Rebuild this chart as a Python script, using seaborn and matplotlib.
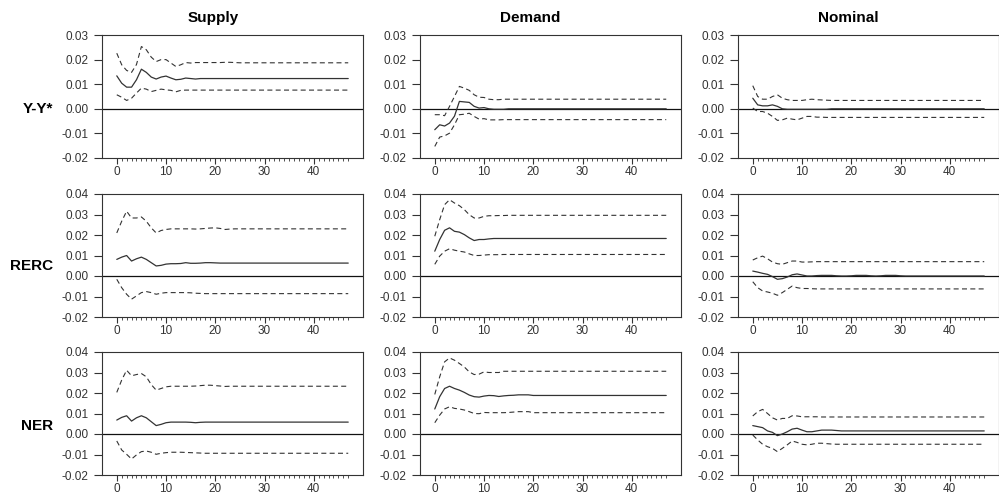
import numpy as np
import pandas as pd
import matplotlib
matplotlib.use("Agg")
import matplotlib.pyplot as plt
import seaborn as sns
from matplotlib.ticker import FixedLocator, FormatStrFormatter

# ---------------- data ----------------
horizon = list(range(48))
shocks = ["Supply", "Demand", "Nominal"]
variables = ["Y-Y*", "RERC", "NER"]
y_limits = {"Y-Y*": (-0.02, 0.03), "RERC": (-0.02, 0.04), "NER": (-0.02, 0.04)}
x_ticks = [0, 10, 20, 30, 40]

# Y-Y*
sup_y_mid = [0.0134, 0.0104, 0.0088, 0.0088, 0.0118, 0.0161, 0.0148, 0.0129, 0.0121, 0.0129,
             0.0133, 0.0125, 0.0118, 0.0120, 0.0125, 0.0123, 0.0121, 0.0123, 0.0123, 0.0123,
             0.0123, 0.0123, 0.0123, 0.0123, 0.0123, 0.0123, 0.0123, 0.0123, 0.0123, 0.0123,
             0.0123, 0.0123, 0.0123, 0.0123, 0.0123, 0.0123, 0.0123, 0.0123, 0.0123, 0.0123,
             0.0123, 0.0123, 0.0123, 0.0123, 0.0123, 0.0123, 0.0123, 0.0123]
sup_y_up = [0.0226, 0.0179, 0.0156, 0.0148, 0.0180, 0.0253, 0.0240, 0.0210, 0.0192, 0.0200,
            0.0200, 0.0186, 0.0172, 0.0179, 0.0188, 0.0186, 0.0188, 0.0188, 0.0188, 0.0188,
            0.0188, 0.0188, 0.0189, 0.0189, 0.0188, 0.0187, 0.0187, 0.0187, 0.0187, 0.0187,
            0.0187, 0.0187, 0.0187, 0.0187, 0.0187, 0.0187, 0.0187, 0.0187, 0.0187, 0.0187,
            0.0187, 0.0187, 0.0187, 0.0187, 0.0187, 0.0187, 0.0187, 0.0187]
sup_y_lo = [0.0057, 0.0047, 0.0034, 0.0043, 0.0064, 0.0084, 0.0080, 0.0070, 0.0075, 0.0080,
            0.0077, 0.0075, 0.0069, 0.0075, 0.0076, 0.0076, 0.0076, 0.0076, 0.0076, 0.0076,
            0.0076, 0.0076, 0.0076, 0.0076, 0.0076, 0.0076, 0.0076, 0.0076, 0.0076, 0.0076,
            0.0076, 0.0076, 0.0076, 0.0076, 0.0076, 0.0076, 0.0076, 0.0076, 0.0076, 0.0076,
            0.0076, 0.0076, 0.0076, 0.0076, 0.0076, 0.0076, 0.0076, 0.0076]

dem_y_mid = [-0.0085, -0.0065, -0.0070, -0.0058, -0.0030, 0.0030, 0.0028, 0.0026, 0.0010, 0.0003,
             0.0005, 0.0000, -0.0002, -0.0002, -0.0002, 0.0000, 0.0000, 0.0000, 0.0000, 0.0000,
             0.0000, 0.0000, 0.0000, 0.0000, 0.0000, 0.0000, 0.0000, 0.0000, 0.0000, 0.0000,
             0.0000, 0.0000, 0.0000, 0.0000, 0.0000, 0.0000, 0.0000, 0.0000, 0.0000, 0.0000,
             0.0000, 0.0000, 0.0000, 0.0000, 0.0000, 0.0000, 0.0000, 0.0000]
dem_y_up = [-0.0024, -0.0024, -0.0028, 0.0010, 0.0050, 0.0091, 0.0084, 0.0075, 0.0057, 0.0047,
            0.0046, 0.0039, 0.0037, 0.0037, 0.0039, 0.0039, 0.0039, 0.0039, 0.0039, 0.0039,
            0.0039, 0.0039, 0.0039, 0.0039, 0.0039, 0.0039, 0.0039, 0.0039, 0.0039, 0.0039,
            0.0039, 0.0039, 0.0039, 0.0039, 0.0039, 0.0039, 0.0039, 0.0039, 0.0039, 0.0039,
            0.0039, 0.0039, 0.0039, 0.0039, 0.0039, 0.0039, 0.0039, 0.0039]
dem_y_lo = [-0.0153, -0.0115, -0.0110, -0.0099, -0.0065, -0.0024, -0.0022, -0.0018, -0.0031, -0.0042,
            -0.0040, -0.0045, -0.0045, -0.0045, -0.0044, -0.0044, -0.0044, -0.0044, -0.0044, -0.0044,
            -0.0044, -0.0044, -0.0044, -0.0044, -0.0044, -0.0044, -0.0044, -0.0044, -0.0044, -0.0044,
            -0.0044, -0.0044, -0.0044, -0.0044, -0.0044, -0.0044, -0.0044, -0.0044, -0.0044, -0.0044,
            -0.0044, -0.0044, -0.0044, -0.0044, -0.0044, -0.0044, -0.0044, -0.0044]

nom_y_mid = [0.0043, 0.0016, 0.0012, 0.0012, 0.0016, 0.0010, 0.0000, -0.0002, -0.0002, -0.0002,
             -0.0002, -0.0002, -0.0002, -0.0002, -0.0002, -0.0002, 0.0000, 0.0000, 0.0000, 0.0000,
             0.0000, 0.0000, 0.0000, 0.0000, 0.0000, 0.0000, 0.0000, 0.0000, 0.0000, 0.0000,
             0.0000, 0.0000, 0.0000, 0.0000, 0.0000, 0.0000, 0.0000, 0.0000, 0.0000, 0.0000,
             0.0000, 0.0000, 0.0000, 0.0000, 0.0000, 0.0000, 0.0000, 0.0000]
nom_y_up = [0.0094, 0.0050, 0.0039, 0.0039, 0.0050, 0.0057, 0.0043, 0.0037, 0.0034, 0.0034,
            0.0034, 0.0037, 0.0039, 0.0037, 0.0036, 0.0035, 0.0034, 0.0034, 0.0034, 0.0034,
            0.0034, 0.0034, 0.0034, 0.0034, 0.0034, 0.0034, 0.0034, 0.0034, 0.0034, 0.0034,
            0.0034, 0.0034, 0.0034, 0.0034, 0.0034, 0.0034, 0.0034, 0.0034, 0.0034, 0.0034,
            0.0034, 0.0034, 0.0034, 0.0034, 0.0034, 0.0034, 0.0034, 0.0034]
nom_y_lo = [0.0003, -0.0011, -0.0011, -0.0018, -0.0031, -0.0047, -0.0045, -0.0038, -0.0042, -0.0045,
            -0.0038, -0.0031, -0.0031, -0.0034, -0.0034, -0.0035, -0.0035, -0.0035, -0.0035, -0.0035,
            -0.0035, -0.0035, -0.0035, -0.0035, -0.0035, -0.0035, -0.0035, -0.0035, -0.0035, -0.0035,
            -0.0035, -0.0035, -0.0035, -0.0035, -0.0035, -0.0035, -0.0035, -0.0035, -0.0035, -0.0035,
            -0.0035, -0.0035, -0.0035, -0.0035, -0.0035, -0.0035, -0.0035, -0.0035]

# RERC
sup_r_mid = [0.0081, 0.0092, 0.0100, 0.0073, 0.0084, 0.0092, 0.0081, 0.0065, 0.0049, 0.0052,
             0.0058, 0.0060, 0.0060, 0.0061, 0.0065, 0.0062, 0.0062, 0.0063, 0.0065, 0.0065,
             0.0064, 0.0063, 0.0063, 0.0063, 0.0063, 0.0063, 0.0063, 0.0063, 0.0063, 0.0063,
             0.0063, 0.0063, 0.0063, 0.0063, 0.0063, 0.0063, 0.0063, 0.0063, 0.0063, 0.0063,
             0.0063, 0.0063, 0.0063, 0.0063, 0.0063, 0.0063, 0.0063, 0.0063]
sup_r_up = [0.0210, 0.0267, 0.0316, 0.0283, 0.0283, 0.0288, 0.0267, 0.0235, 0.0210, 0.0222,
            0.0227, 0.0230, 0.0230, 0.0230, 0.0230, 0.0230, 0.0229, 0.0230, 0.0232, 0.0234,
            0.0235, 0.0232, 0.0227, 0.0229, 0.0230, 0.0230, 0.0230, 0.0230, 0.0230, 0.0230,
            0.0230, 0.0230, 0.0230, 0.0230, 0.0230, 0.0230, 0.0230, 0.0230, 0.0230, 0.0230,
            0.0230, 0.0230, 0.0230, 0.0230, 0.0230, 0.0230, 0.0230, 0.0230]
sup_r_lo = [-0.0016, -0.0057, -0.0089, -0.0113, -0.0097, -0.0081, -0.0076, -0.0081, -0.0089, -0.0084,
            -0.0081, -0.0081, -0.0081, -0.0081, -0.0081, -0.0082, -0.0084, -0.0085, -0.0086, -0.0086,
            -0.0086, -0.0086, -0.0086, -0.0086, -0.0086, -0.0086, -0.0086, -0.0086, -0.0086, -0.0086,
            -0.0086, -0.0086, -0.0086, -0.0086, -0.0086, -0.0086, -0.0086, -0.0086, -0.0086, -0.0086,
            -0.0086, -0.0086, -0.0086, -0.0086, -0.0086, -0.0086, -0.0086, -0.0086]

dem_r_mid = [0.0121, 0.0178, 0.0223, 0.0235, 0.0218, 0.0214, 0.0202, 0.0186, 0.0173, 0.0178,
             0.0178, 0.0181, 0.0183, 0.0183, 0.0183, 0.0183, 0.0183, 0.0183, 0.0183, 0.0183,
             0.0183, 0.0183, 0.0183, 0.0183, 0.0183, 0.0183, 0.0183, 0.0183, 0.0183, 0.0183,
             0.0183, 0.0183, 0.0183, 0.0183, 0.0183, 0.0183, 0.0183, 0.0183, 0.0183, 0.0183,
             0.0183, 0.0183, 0.0183, 0.0183, 0.0183, 0.0183, 0.0183, 0.0183]
dem_r_up = [0.0194, 0.0275, 0.0348, 0.0372, 0.0356, 0.0343, 0.0324, 0.0299, 0.0283, 0.0283,
            0.0291, 0.0294, 0.0294, 0.0295, 0.0295, 0.0296, 0.0296, 0.0296, 0.0296, 0.0296,
            0.0296, 0.0296, 0.0296, 0.0296, 0.0296, 0.0296, 0.0296, 0.0296, 0.0296, 0.0296,
            0.0296, 0.0296, 0.0296, 0.0296, 0.0296, 0.0296, 0.0296, 0.0296, 0.0296, 0.0296,
            0.0296, 0.0296, 0.0296, 0.0296, 0.0296, 0.0296, 0.0296, 0.0296]
dem_r_lo = [0.0057, 0.0097, 0.0121, 0.0133, 0.0126, 0.0121, 0.0117, 0.0108, 0.0100, 0.0100,
            0.0102, 0.0104, 0.0104, 0.0104, 0.0105, 0.0105, 0.0105, 0.0105, 0.0105, 0.0105,
            0.0105, 0.0105, 0.0105, 0.0105, 0.0105, 0.0105, 0.0105, 0.0105, 0.0105, 0.0105,
            0.0105, 0.0105, 0.0105, 0.0105, 0.0105, 0.0105, 0.0105, 0.0105, 0.0105, 0.0105,
            0.0105, 0.0105, 0.0105, 0.0105, 0.0105, 0.0105, 0.0105, 0.0105]

nom_r_mid = [0.0024, 0.0019, 0.0013, 0.0008, -0.0003, -0.0016, -0.0013, -0.0005, 0.0006, 0.0010,
             0.0005, 0.0000, 0.0000, 0.0002, 0.0003, 0.0003, 0.0003, 0.0001, 0.0000, 0.0000,
             0.0001, 0.0003, 0.0003, 0.0003, 0.0001, 0.0000, 0.0001, 0.0003, 0.0003, 0.0003,
             0.0001, 0.0000, 0.0000, 0.0000, 0.0000, 0.0000, 0.0000, 0.0000, 0.0000, 0.0000,
             0.0000, 0.0000, 0.0000, 0.0000, 0.0000, 0.0000, 0.0000, 0.0000]
nom_r_up = [0.0078, 0.0089, 0.0097, 0.0084, 0.0068, 0.0060, 0.0057, 0.0065, 0.0073, 0.0073,
            0.0068, 0.0068, 0.0069, 0.0070, 0.0070, 0.0070, 0.0070, 0.0070, 0.0070, 0.0070,
            0.0070, 0.0070, 0.0070, 0.0070, 0.0070, 0.0070, 0.0070, 0.0070, 0.0070, 0.0070,
            0.0070, 0.0070, 0.0070, 0.0070, 0.0070, 0.0070, 0.0070, 0.0070, 0.0070, 0.0070,
            0.0070, 0.0070, 0.0070, 0.0070, 0.0070, 0.0070, 0.0070, 0.0070]
nom_r_lo = [-0.0028, -0.0057, -0.0073, -0.0078, -0.0084, -0.0094, -0.0081, -0.0065, -0.0049, -0.0057,
            -0.0061, -0.0061, -0.0062, -0.0063, -0.0063, -0.0063, -0.0063, -0.0063, -0.0063, -0.0063,
            -0.0063, -0.0063, -0.0063, -0.0063, -0.0063, -0.0063, -0.0063, -0.0063, -0.0063, -0.0063,
            -0.0063, -0.0063, -0.0063, -0.0063, -0.0063, -0.0063, -0.0063, -0.0063, -0.0063, -0.0063,
            -0.0063, -0.0063, -0.0063, -0.0063, -0.0063, -0.0063, -0.0063, -0.0063]

# NER
sup_n_mid = [0.0068, 0.0081, 0.0089, 0.0063, 0.0079, 0.0089, 0.0079, 0.0060, 0.0041, 0.0047,
             0.0055, 0.0058, 0.0058, 0.0058, 0.0058, 0.0057, 0.0055, 0.0057, 0.0058, 0.0058,
             0.0058, 0.0058, 0.0058, 0.0058, 0.0058, 0.0058, 0.0058, 0.0058, 0.0058, 0.0058,
             0.0058, 0.0058, 0.0058, 0.0058, 0.0058, 0.0058, 0.0058, 0.0058, 0.0058, 0.0058,
             0.0058, 0.0058, 0.0058, 0.0058, 0.0058, 0.0058, 0.0058, 0.0058]
sup_n_up = [0.0203, 0.0263, 0.0311, 0.0284, 0.0290, 0.0295, 0.0279, 0.0241, 0.0214, 0.0222,
            0.0230, 0.0233, 0.0233, 0.0233, 0.0233, 0.0233, 0.0234, 0.0236, 0.0238, 0.0238,
            0.0236, 0.0234, 0.0232, 0.0233, 0.0233, 0.0233, 0.0233, 0.0233, 0.0233, 0.0233,
            0.0233, 0.0233, 0.0233, 0.0233, 0.0233, 0.0233, 0.0233, 0.0233, 0.0233, 0.0233,
            0.0233, 0.0233, 0.0233, 0.0233, 0.0233, 0.0233, 0.0233, 0.0233]
sup_n_lo = [-0.0034, -0.0078, -0.0099, -0.0122, -0.0102, -0.0086, -0.0083, -0.0089, -0.0099, -0.0094,
            -0.0091, -0.0089, -0.0089, -0.0089, -0.0090, -0.0091, -0.0092, -0.0093, -0.0094, -0.0094,
            -0.0094, -0.0094, -0.0094, -0.0094, -0.0094, -0.0094, -0.0094, -0.0094, -0.0094, -0.0094,
            -0.0094, -0.0094, -0.0094, -0.0094, -0.0094, -0.0094, -0.0094, -0.0094, -0.0094, -0.0094,
            -0.0094, -0.0094, -0.0094, -0.0094, -0.0094, -0.0094, -0.0094, -0.0094]

dem_n_mid = [0.0122, 0.0182, 0.0222, 0.0233, 0.0222, 0.0214, 0.0203, 0.0190, 0.0182, 0.0180,
             0.0185, 0.0188, 0.0187, 0.0183, 0.0186, 0.0188, 0.0189, 0.0191, 0.0191, 0.0191,
             0.0188, 0.0188, 0.0188, 0.0188, 0.0188, 0.0188, 0.0188, 0.0188, 0.0188, 0.0188,
             0.0188, 0.0188, 0.0188, 0.0188, 0.0188, 0.0188, 0.0188, 0.0188, 0.0188, 0.0188,
             0.0188, 0.0188, 0.0188, 0.0188, 0.0188, 0.0188, 0.0188, 0.0188]
dem_n_up = [0.0193, 0.0279, 0.0352, 0.0371, 0.0360, 0.0344, 0.0327, 0.0303, 0.0290, 0.0292,
            0.0303, 0.0300, 0.0300, 0.0300, 0.0306, 0.0306, 0.0306, 0.0306, 0.0306, 0.0306,
            0.0306, 0.0306, 0.0306, 0.0306, 0.0306, 0.0306, 0.0306, 0.0306, 0.0306, 0.0306,
            0.0306, 0.0306, 0.0306, 0.0306, 0.0306, 0.0306, 0.0306, 0.0306, 0.0306, 0.0306,
            0.0306, 0.0306, 0.0306, 0.0306, 0.0306, 0.0306, 0.0306, 0.0306]
dem_n_lo = [0.0055, 0.0092, 0.0122, 0.0133, 0.0125, 0.0122, 0.0117, 0.0109, 0.0100, 0.0099,
            0.0105, 0.0104, 0.0104, 0.0104, 0.0104, 0.0105, 0.0107, 0.0109, 0.0109, 0.0109,
            0.0104, 0.0104, 0.0104, 0.0104, 0.0104, 0.0104, 0.0104, 0.0104, 0.0104, 0.0104,
            0.0104, 0.0104, 0.0104, 0.0104, 0.0104, 0.0104, 0.0104, 0.0104, 0.0104, 0.0104,
            0.0104, 0.0104, 0.0104, 0.0104, 0.0104, 0.0104, 0.0104, 0.0104]

nom_n_mid = [0.0041, 0.0036, 0.0031, 0.0015, 0.0008, -0.0008, 0.0000, 0.0011, 0.0024, 0.0028,
             0.0019, 0.0011, 0.0011, 0.0015, 0.0019, 0.0019, 0.0019, 0.0017, 0.0015, 0.0015,
             0.0015, 0.0015, 0.0015, 0.0015, 0.0015, 0.0015, 0.0015, 0.0015, 0.0015, 0.0015,
             0.0015, 0.0015, 0.0015, 0.0015, 0.0015, 0.0015, 0.0015, 0.0015, 0.0015, 0.0015,
             0.0015, 0.0015, 0.0015, 0.0015, 0.0015, 0.0015, 0.0015, 0.0015]
nom_n_up = [0.0088, 0.0109, 0.0120, 0.0100, 0.0079, 0.0068, 0.0076, 0.0076, 0.0089, 0.0088,
            0.0084, 0.0084, 0.0084, 0.0084, 0.0083, 0.0083, 0.0083, 0.0083, 0.0083, 0.0083,
            0.0083, 0.0083, 0.0083, 0.0083, 0.0083, 0.0083, 0.0083, 0.0083, 0.0083, 0.0083,
            0.0083, 0.0083, 0.0083, 0.0083, 0.0083, 0.0083, 0.0083, 0.0083, 0.0083, 0.0083,
            0.0083, 0.0083, 0.0083, 0.0083, 0.0083, 0.0083, 0.0083, 0.0083]
nom_n_lo = [-0.0005, -0.0029, -0.0050, -0.0062, -0.0070, -0.0086, -0.0070, -0.0053, -0.0034, -0.0041,
            -0.0050, -0.0053, -0.0050, -0.0045, -0.0045, -0.0047, -0.0049, -0.0050, -0.0050, -0.0050,
            -0.0050, -0.0050, -0.0050, -0.0050, -0.0050, -0.0050, -0.0050, -0.0050, -0.0050, -0.0050,
            -0.0050, -0.0050, -0.0050, -0.0050, -0.0050, -0.0050, -0.0050, -0.0050, -0.0050, -0.0050,
            -0.0050, -0.0050, -0.0050, -0.0050, -0.0050, -0.0050, -0.0050, -0.0050]

panels = {
    ("Y-Y*", "Supply"): (sup_y_mid, sup_y_up, sup_y_lo),
    ("Y-Y*", "Demand"): (dem_y_mid, dem_y_up, dem_y_lo),
    ("Y-Y*", "Nominal"): (nom_y_mid, nom_y_up, nom_y_lo),
    ("RERC", "Supply"): (sup_r_mid, sup_r_up, sup_r_lo),
    ("RERC", "Demand"): (dem_r_mid, dem_r_up, dem_r_lo),
    ("RERC", "Nominal"): (nom_r_mid, nom_r_up, nom_r_lo),
    ("NER", "Supply"): (sup_n_mid, sup_n_up, sup_n_lo),
    ("NER", "Demand"): (dem_n_mid, dem_n_up, dem_n_lo),
    ("NER", "Nominal"): (nom_n_mid, nom_n_up, nom_n_lo),
}

# ---------------- style ----------------
sns.set_theme(style="ticks")
plt.rcParams["font.family"] = ["Liberation Sans", "DejaVu Sans"]
plt.rcParams["axes.unicode_minus"] = False

W, H = 999, 496
fig = plt.figure(figsize=(W / 100, H / 100), dpi=100)
fig.patch.set_facecolor("white")

col_left = [102, 420, 738]
row_top = [35, 194, 352]
ax_w, ax_h = 261, 123
title_x = [213, 530, 848]
row_label_y = [109, 266, 426]

line_col = "#333333"
axis_col = "#333333"

for r, var in enumerate(variables):
    for c, shock in enumerate(shocks):
        L, T = col_left[c], row_top[r]
        ax = fig.add_axes([L / W, 1 - (T + ax_h) / H, ax_w / W, ax_h / H])
        mid, up, lo = panels[(var, shock)]
        df = pd.DataFrame({"h": horizon, "mid": mid, "up": up, "lo": lo})
        ax.axhline(0, color="#111111", lw=0.9, zorder=1)
        sns.lineplot(data=df, x="h", y="up", ax=ax, color=line_col, lw=0.8,
                     linestyle=(0, (4.5, 3)), errorbar=None, zorder=2)
        sns.lineplot(data=df, x="h", y="lo", ax=ax, color=line_col, lw=0.8,
                     linestyle=(0, (4.5, 3)), errorbar=None, zorder=2)
        sns.lineplot(data=df, x="h", y="mid", ax=ax, color=line_col, lw=0.9,
                     errorbar=None, zorder=3)
        ylo, yhi = y_limits[var]
        ax.set_xlim(-3, 50)
        ax.set_ylim(ylo, yhi)
        ax.set_yticks(np.round(np.arange(ylo, yhi + 0.005, 0.01), 2))
        ax.yaxis.set_major_formatter(FormatStrFormatter("%.2f"))
        ax.xaxis.set_major_locator(FixedLocator(x_ticks))
        ax.xaxis.set_minor_locator(FixedLocator(horizon))
        ax.set_xlabel("")
        ax.set_ylabel("")
        for sp in ax.spines.values():
            sp.set_visible(True)
            sp.set_color(axis_col)
            sp.set_linewidth(0.8)
        ax.tick_params(axis="y", which="major", direction="out", length=5.5, width=0.8,
                       color=axis_col, labelsize=8.5, labelcolor="#333333", pad=4)
        ax.tick_params(axis="x", which="major", direction="out", length=4.5, width=0.8,
                       color=axis_col, labelsize=8.5, labelcolor="#333333", pad=1.5)
        ax.tick_params(axis="x", which="minor", direction="out", length=2.2, width=0.6,
                       color=axis_col)
        ax.set_facecolor("white")

for c, shock in enumerate(shocks):
    fig.text(title_x[c] / W, 1 - 18 / H, shock, ha="center", va="center",
             fontsize=11, fontweight="bold", color="black")

for r, var in enumerate(variables):
    fig.text(53 / W, 1 - row_label_y[r] / H, var, ha="right", va="center",
             fontsize=11, fontweight="bold", color="black")

fig.savefig("out.png", dpi=100)
